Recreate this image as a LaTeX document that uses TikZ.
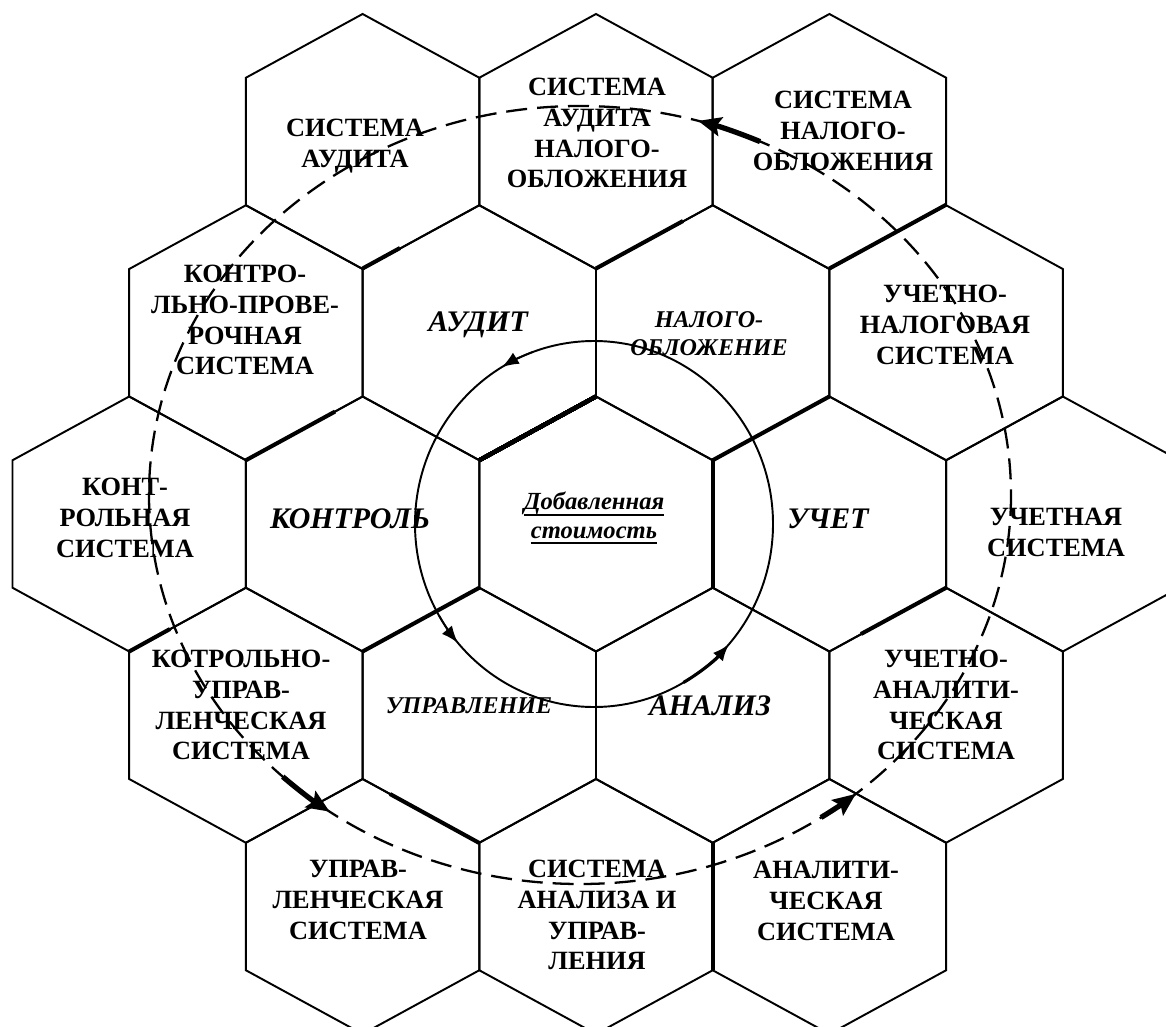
\documentclass[tikz,border=0pt]{standalone}
\usepackage{fontspec}
\setmainfont{Liberation Serif}
\usetikzlibrary{arrows.meta}
\def\hexcell#1#2{\draw[hexline] (#1,#2) +(0,-127.5) -- +(116.7,-63.75) -- +(116.7,63.75) -- +(0,127.5) -- +(-116.7,63.75) -- +(-116.7,-63.75) -- cycle;}
\newcommand\valueline[1]{\setbox0\hbox{#1}\rlap{\rule[-3.2pt]{\wd0}{1.1pt}}\box0}
\tikzset{
  hexline/.style={line width=1.1pt},
  heavyedge/.style={line width=2.3pt},
  sysname/.style={font=\bfseries\fontsize{15}{17.6}\selectfont,align=center,inner sep=0pt},
  areaname/.style={font=\bfseries\itshape\fontsize{17}{19}\selectfont,align=center,inner sep=0pt},
  smallarea/.style={font=\bfseries\itshape\fontsize{13.7}{16}\selectfont,align=center,inner sep=0pt},
  orbit/.style={line width=1.3pt,dash pattern=on 0.42cm off 0.2cm},
  flow/.style={line width=3pt,-{Stealth[length=0.46cm,width=0.38cm,inset=0.08cm]}},
  cycle/.style={line width=1pt,-{Latex[length=0.34cm,width=0.26cm]}}
}

\begin{document}
\begin{tikzpicture}[x=0.02cm,y=-0.02cm]
\useasboundingbox (0,0) rectangle (1166,1027);
\clip (0,0) rectangle (1166,1027);
\foreach \row/\cols in {-2/{-2,0,2},-1/{-3,-1,1,3},0/{-4,-2,0,2,4},1/{-3,-1,1,3},2/{-2,0,2}}
  \foreach \col in \cols
    \hexcell{596+\col*116.7}{524+\row*191.25}
\draw[heavyedge] (479.3,460.25) -- (596,396.5);
\draw[heavyedge] (712.7,460.25) -- (712.7,587.75);
\draw[heavyedge] (712.7,460.25) -- (829.4,396.5);
\draw[heavyedge] (362.6,651.5) -- (479.3,587.75);
\draw[heavyedge] (245.9,460.25) -- (335,411.6);
\draw[heavyedge] (129.2,651.5) -- (170,629);
\draw[heavyedge] (861,634) -- (946.1,587.75);
\draw[heavyedge] (596,268.5) -- (683,221);
\draw[heavyedge] (829.4,268.5) -- (946.1,204.75);
\draw[heavyedge] (362.6,268.5) -- (400,248);
\draw[heavyedge] (712.7,843) -- (712.7,970);
\draw[heavyedge] (390,794) -- (479.3,843);

\coordinate (valc) at (594,524);
\coordinate (orbitc) at (580,495);
\draw[hexline] (valc) ellipse [x radius=179,y radius=183];
\draw[orbit] (orbitc) ellipse [x radius=431,y radius=389];
\draw[cycle] (valc) ++(-110:179 and 183) arc[start angle=-110,end angle=-121,x radius=179,y radius=183];
\draw[cycle] (valc) ++(150:179 and 183) arc[start angle=150,end angle=139.5,x radius=179,y radius=183];
\draw[cycle,line width=1.8pt] (valc) ++(60:179 and 183) arc[start angle=60,end angle=41,x radius=179,y radius=183];
\draw[flow] (orbitc) ++(-65.3:431 and 389) arc[start angle=-65.3,end angle=-74.1,x radius=431,y radius=389];
\draw[flow] (orbitc) ++(133.6:431 and 389) arc[start angle=133.6,end angle=125.5,x radius=431,y radius=389];
\draw[flow] (orbitc) ++(56:431 and 389) arc[start angle=56,end angle=50.2,x radius=431,y radius=389];

\node[sysname] (sysaudit) at (355,146) {СИСТЕМА\\АУДИТА};
\node[sysname] (systaxaudit) at (597,133) {СИСТЕМА\\АУДИТА\\НАЛОГО-\\ОБЛОЖЕНИЯ};
\node[sysname] (systax) at (843,131) {СИСТЕМА\\НАЛОГО-\\ОБЛОЖЕНИЯ};
\node[sysname] (syscheck) at (245,320) {КОНТРО-\\ЛЬНО-ПРОВЕ-\\РОЧНАЯ\\СИСТЕМА};
\node[sysname] (systaxacc) at (945,325) {УЧЕТНО-\\НАЛОГОВАЯ\\СИСТЕМА};
\node[sysname] (syscontrol) at (125,518) {КОНТ-\\РОЛЬНАЯ\\СИСТЕМА};
\node[sysname] (sysacc) at (1056,532) {УЧЕТНАЯ\\СИСТЕМА};
\node[sysname] (sysctrlman) at (241,705) {КОТРОЛЬНО-\\УПРАВ-\\ЛЕНЧЕСКАЯ\\СИСТЕМА};
\node[sysname] (sysaccan) at (946,705) {УЧЕТНО-\\АНАЛИТИ-\\ЧЕСКАЯ\\СИСТЕМА};
\node[sysname] (sysman) at (358,900) {УПРАВ-\\ЛЕНЧЕСКАЯ\\СИСТЕМА};
\node[sysname] (sysanman) at (597,915) {СИСТЕМА\\АНАЛИЗА И\\УПРАВ-\\ЛЕНИЯ};
\node[sysname] (sysan) at (826,901) {АНАЛИТИ-\\ЧЕСКАЯ\\СИСТЕМА};

\node[areaname] (audit) at (478,325) {АУДИТ};
\node[smallarea] (tax) at (709,334) {НАЛОГО-\\ОБЛОЖЕНИЕ};
\node[areaname] (control) at (350,519) {КОНТРОЛЬ};
\node[areaname] (acc) at (828,519) {УЧЕТ};
\node[smallarea] (manage) at (469,706) {УПРАВЛЕНИЕ};
\node[areaname] (analysis) at (710,706) {АНАЛИЗ};
\node[smallarea,font=\bfseries\itshape\fontsize{14}{16}\selectfont] (value) at (594,518) {\valueline{Добавленная}\\\valueline{стоимость}};
\end{tikzpicture}
\end{document}
